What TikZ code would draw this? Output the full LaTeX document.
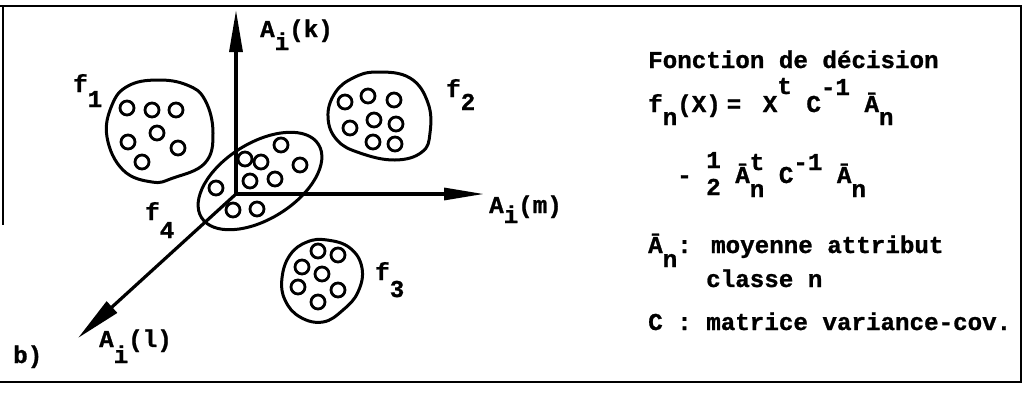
\documentclass[tikz,border=0pt]{standalone}
\usepackage{fontspec}
\setmainfont{Liberation Mono}[BoldFeatures={FakeBold=1}]
\usetikzlibrary{arrows.meta}
\newcommand\dn[2][13pt]{\raisebox{-#1}{#2}}
\newcommand\up[2][18pt]{\raisebox{#1}{#2}}
\newcommand\frc{\rlap{\raisebox{15pt}{1}}\raisebox{-12pt}{2}}
\newcommand\tnsub{\rlap{\raisebox{13pt}{t}}\raisebox{-14pt}{n}}
\begin{document}
\begin{tikzpicture}[x=1pt,y=1pt,
  txt/.style={anchor=base west,inner sep=0pt,font=\bfseries\fontsize{24.2}{29}\selectfont},
  axis/.style={line width=3.2pt},
  blob/.style={line width=3pt,line join=round},
  dotc/.style={line width=2.8pt},
  frameline/.style={line width=2.5pt}]
\useasboundingbox (0,0) rectangle (1028,-392);
% frame
\draw[frameline] (0,-6) -- (1021,-6) -- (1021,-382) -- (0,-382);
\draw[frameline] (3,-6) -- (3,-225);
% axes
\coordinate (O) at (236,-194);
\coordinate (K) at (236,-10);
\coordinate (M) at (484,-194);
\coordinate (L) at (78,-338);
\draw[axis,-{Triangle[length=42pt,width=13pt]}] (O) -- (K);
\draw[axis,-{Triangle[length=40pt,width=12pt]}] (O) -- (M);
\draw[axis,-{Triangle[length=46pt,width=15pt]}] (O) -- (L);
% class f1
\draw[blob] plot[smooth cycle,tension=0.7] coordinates {(157,-80) (187,-85) (205,-100) (213,-133) (205,-163) (173,-178) (152,-182) (123,-170) (107,-137) (112,-105) (128,-86)};
\foreach \p in {(127,-108),(152,-110),(176,-110),(128,-142),(157,-133),(178,-148),(142,-162)}
  \draw[dotc] \p circle[radius=7pt];
% class f2
\draw[blob] plot[smooth cycle,tension=0.7] coordinates {(377,-72) (410,-78) (428,-103) (430,-133) (422,-152) (395,-160) (360,-153) (337,-140) (328,-117) (335,-93) (353,-78)};
\foreach \p in {(345,-102),(368,-96),(394,-100),(350,-128),(374,-120),(396,-124),(373,-142),(395,-144)}
  \draw[dotc] \p circle[radius=7pt];
% class f3
\draw[blob] plot[smooth cycle,tension=0.7] coordinates {(327,-240) (350,-248) (362,-268) (358,-292) (343,-310) (323,-322) (300,-317) (285,-300) (282,-278) (290,-255) (307,-242)};
\foreach \p in {(318,-251),(338,-255),(302,-267),(322,-274),(298,-287),(338,-290),(318,-302)}
  \draw[dotc] \p circle[radius=7pt];
% class f4
\draw[blob,rotate around={32:(260,-181)}] (260,-181) ellipse[x radius=69pt,y radius=38pt];
\foreach \p in {(245,-159),(261,-162),(281,-145),(300,-165),(250,-181),(275,-179),(216,-188),(233,-210),(257,-209)}
  \draw[dotc] \p circle[radius=7pt];
% labels
\node[txt] (lk) at (260,-37) {A\dn{i}(k)};
\node[txt] (lm) at (489,-213) {A\dn[10pt]{i}(m)};
\node[txt] (ll) at (99,-347) {A\dn[16pt]{i}(l)};
\node[txt] (f1) at (73,-92) {f\dn[15pt]{1}};
\node[txt] (f2) at (446,-97) {f\dn[13pt]{2}};
\node[txt] (f3) at (375,-280) {f\dn[17pt]{3}};
\node[txt] (f4) at (145,-220) {f\dn[18pt]{4}};
\node[txt] (b) at (13,-363) {b)};
% right text
\node[txt] (t1) at (648,-68) {Fonction de décision};
\node[txt] (t2) at (648,-112) {f\dn{n}(X)\kern6pt=\kern21.5pt X\up{t} C\up[17pt]{-1} Ā\dn{n}};
\node[txt] (t3) at (648,-183) {\kern29pt- \frc{} Ā\tnsub{} C\up[13pt]{-1} Ā\dn[14pt]{n}};
\node[txt] (t4) at (648,-253) {Ā\dn[14pt]{n}: moyenne attribut};
\node[txt] (t5) at (706,-287) {classe n};
\node[txt] (t6) at (648,-330) {C : matrice variance-cov.};
\end{tikzpicture}
\end{document}
